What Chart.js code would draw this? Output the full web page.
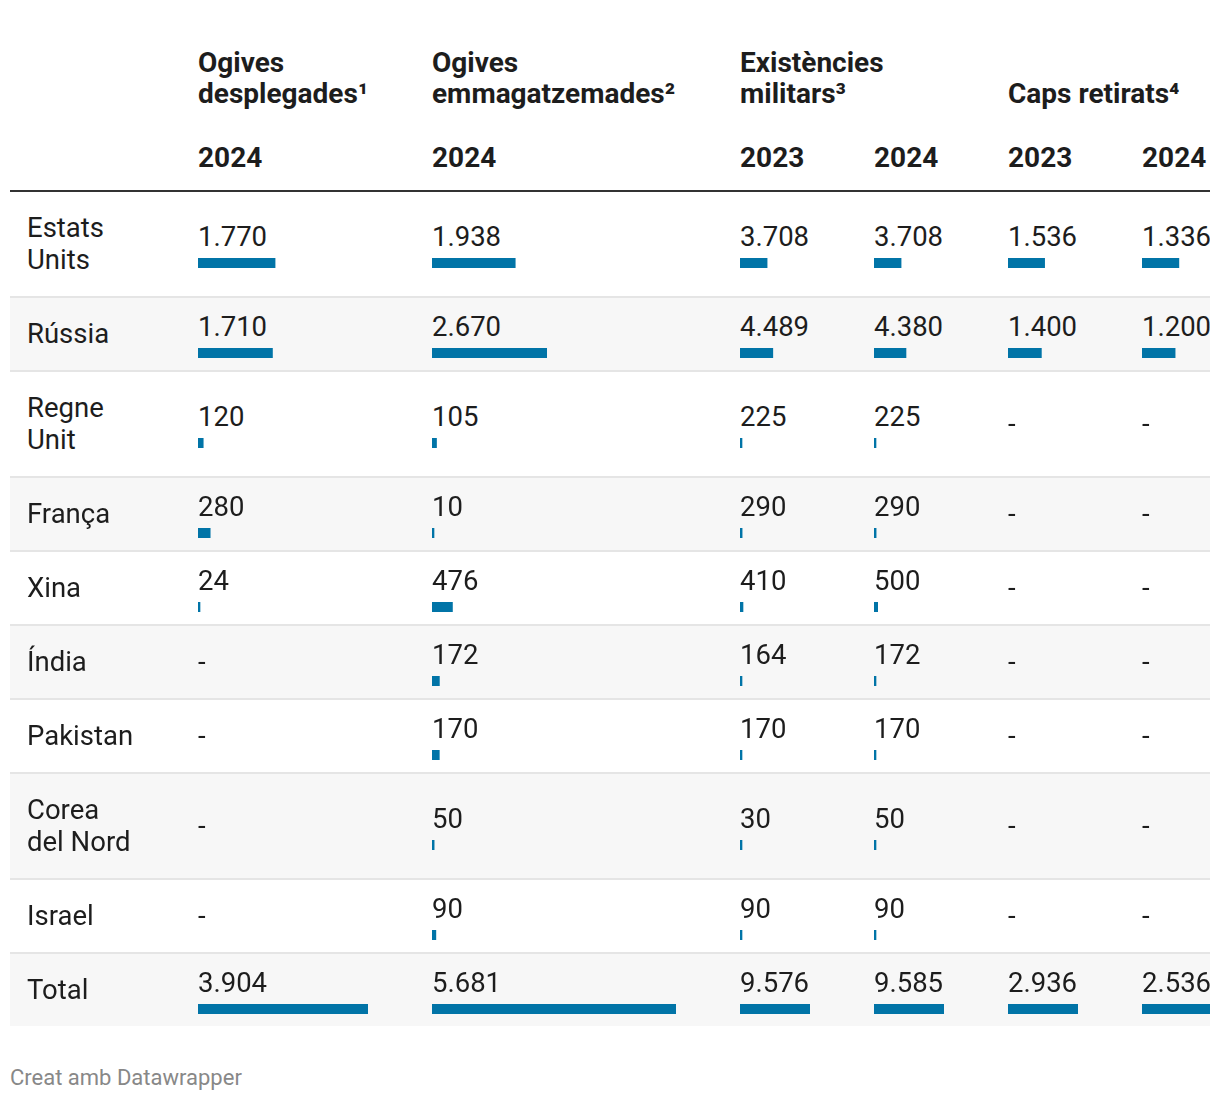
<!DOCTYPE html>
<html lang="ca">
<head>
<meta charset="utf-8">
<title>Ogives nuclears</title>
<script src="https://cdn.jsdelivr.net/npm/chart.js@4/dist/chart.umd.min.js"></script>
<style>
  html, body { margin: 0; padding: 0; background: #fff; }
  body { font-family: Roboto, "Noto Sans", sans-serif; color: #1d1d1d; }
  .wrap { position: absolute; left: 10px; top: 0; width: 1200px; overflow: hidden; }
  table { border-collapse: collapse; table-layout: fixed; width: 1266px; }
  th { text-align: left; font-weight: 700; padding: 0 30px 0 0; white-space: pre-line; }
  thead tr.group th { font-size: 28px; line-height: 31px; padding-top: 47px; vertical-align: bottom; }
  thead tr.year th { font-size: 28px; line-height: 34px; padding-top: 32px; padding-bottom: 15px;
    border-bottom: 2px solid #333; }
  td { vertical-align: middle; padding: 0; font-size: 27.5px; line-height: 32px;
    border-bottom: 2px solid #e5e5e5; }
  td.name { padding: 20px 0 20px 17px; white-space: pre-line; }
  tbody tr:nth-child(even) td { background: #f7f7f7; }
  tbody tr:last-child td { border-bottom: none; }
  td canvas { display: block; margin-top: 5px; }
  .footer { position: absolute; left: 10px; top: 1064px; font-size: 22px; line-height: 28px; color: #888;
    font-family: Roboto, sans-serif; }
</style>
</head>
<body>
<div class="wrap">
  <table id="tbl">
    <colgroup>
      <col style="width:188px"><col style="width:234px"><col style="width:308px">
      <col style="width:134px"><col style="width:134px"><col style="width:134px"><col style="width:134px">
    </colgroup>
    <thead>
      <tr class="group">
        <th></th>
        <th>Ogives
desplegades¹</th>
        <th>Ogives
emmagatzemades²</th>
        <th colspan="2">Existències
militars³</th>
        <th colspan="2">Caps retirats⁴</th>
      </tr>
      <tr class="year">
        <th></th><th>2024</th><th>2024</th><th>2023</th><th>2024</th><th>2023</th><th>2024</th>
      </tr>
    </thead>
    <tbody id="body"></tbody>
  </table>
</div>
<div class="footer">Creat amb Datawrapper</div>
<script>
const countries = ["Estats\nUnits", "Rússia", "Regne\nUnit", "França", "Xina", "Índia",
  "Pakistan", "Corea\ndel Nord", "Israel", "Total"];
const deployed2024 = [1770, 1710, 120, 280, 24, null, null, null, null, 3904];
const stored2024 = [1938, 2670, 105, 10, 476, 172, 170, 50, 90, 5681];
const military2023 = [3708, 4489, 225, 290, 410, 164, 170, 30, 90, 9576];
const military2024 = [3708, 4380, 225, 290, 500, 172, 170, 50, 90, 9585];
const retired2023 = [1536, 1400, null, null, null, null, null, null, null, 2936];
const retired2024 = [1336, 1200, null, null, null, null, null, null, null, 2536];

const columns = [deployed2024, stored2024, military2023, military2024, retired2023, retired2024];
const barWidths = [170, 244, 70, 70, 70, 70];
const BAR_COLOR = "#0174a7";

function fmt(v) {
  return String(v).replace(/\B(?=(\d{3})+(?!\d))/g, ".");
}

function drawBar(canvas, value, max) {
  new Chart(canvas.getContext("2d"), {
    type: "bar",
    data: {
      labels: [""],
      datasets: [{
        data: [value],
        backgroundColor: BAR_COLOR,
        borderWidth: 0,
        barPercentage: 1,
        categoryPercentage: 1,
        minBarLength: 2,
      }],
    },
    options: {
      indexAxis: "y",
      responsive: false,
      animation: false,
      events: [],
      layout: { padding: 0 },
      plugins: { legend: { display: false }, tooltip: { enabled: false } },
      scales: {
        x: { display: false, min: 0, max: max },
        y: { display: false },
      },
    },
  });
}

const tbody = document.getElementById("body");
countries.forEach((name, r) => {
  const tr = document.createElement("tr");
  const th = document.createElement("td");
  th.className = "name";
  th.textContent = name;
  tr.appendChild(th);
  columns.forEach((col, c) => {
    const td = document.createElement("td");
    const v = col[r];
    if (v == null) {
      td.textContent = "-";
    } else {
      const txt = document.createElement("div");
      txt.textContent = fmt(v);
      td.appendChild(txt);
      const cv = document.createElement("canvas");
      cv.width = barWidths[c];
      cv.height = 10;
      cv.style.width = barWidths[c] + "px";
      cv.style.height = "10px";
      td.appendChild(cv);
      const max = Math.max(...col.filter(x => x != null));
      drawBar(cv, v, max);
    }
    tr.appendChild(td);
  });
  tbody.appendChild(tr);
});
</script>
</body>
</html>
